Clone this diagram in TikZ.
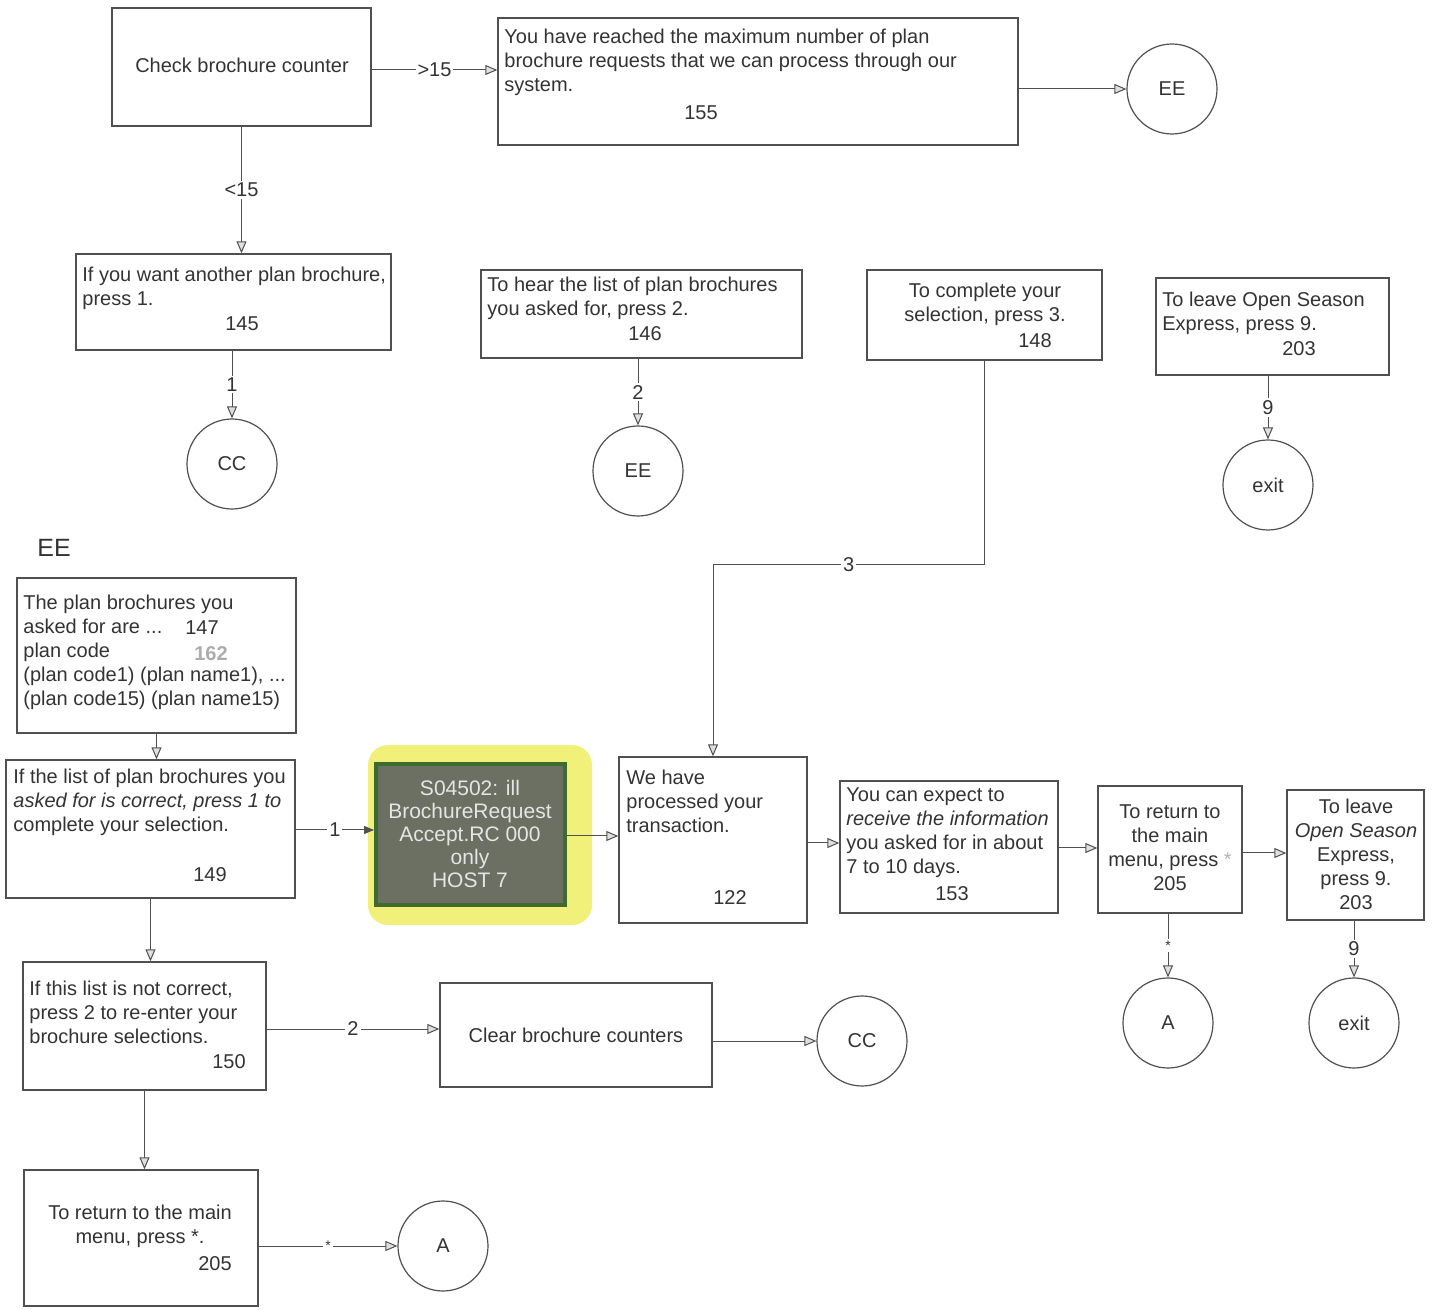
\documentclass[tikz,border=0pt]{standalone}
\usepackage{fontspec}
\setmainfont{Liberation Sans}
\usetikzlibrary{arrows.meta,fit,calc}
\definecolor{ink}{HTML}{333333}
\definecolor{lin}{HTML}{505050}
\definecolor{hlyel}{HTML}{F0F07A}
\definecolor{hlbox}{HTML}{6B7062}
\definecolor{hledge}{HTML}{3F6B2E}
\begin{document}
\begin{tikzpicture}[x=0.5pt,y=-0.5pt, font=\fontsize{10}{12}\selectfont,
 box/.style={draw=lin, line width=0.7pt, inner sep=0pt},
 circ/.style={draw=lin, line width=0.6pt, circle, minimum size=45pt, inner sep=0pt, text=ink},
 txt/.style={text=ink, inner sep=0pt, anchor=west, align=left},
 ctxt/.style={text=ink, inner sep=0pt, align=center},
 arr/.style={draw=lin, line width=0.5pt, -{Triangle[open, length=6pt, width=5pt, fill=gray!25]}},
 arrs/.style={draw=lin, line width=0.5pt, -{Triangle[length=5pt, width=4pt]}},
 lbl/.style={fill=white, inner sep=1pt, text=ink},
 slbl/.style={fill=white, inner sep=1pt, text=ink, font=\fontsize{7}{8}\selectfont}]
\useasboundingbox (0,0) rectangle (1432,1310);

% top row
\node[box, fit={(112,8) (371,126)}] (check) {};
\node[ctxt] (checkT) at (242,65) {Check brochure counter};
\node[box, fit={(498,18) (1018,145)}] (reached) {};
\node[txt] (reachedT) at (504,62) {You have reached the maximum number of plan\\brochure requests that we can process through our\\system.};
\node[ctxt] (reachedN) at (701,113) {155};
\node[circ] (ee1) at (1172,89) {EE};
\draw[arr] (check.east |- 0,70) -- (reached.west |- 0,70) node[lbl, midway] {>15};
\draw[arr] (reached.east |- ee1) -- (ee1.west);

% second row
\node[box, fit={(76,254) (391,350)}] (want) {};
\node[txt] (wantT) at (82,288) {If you want another plan brochure,\\press 1.};
\node[ctxt] (wantN) at (242,324) {145};
\draw[arr] (check.south) -- (check.south |- want.north) node[lbl, midway] {<15};
\node[circ] (cc1) at (232,464) {CC};
\draw[arr] (want.south -| cc1) -- (cc1.north) node[lbl, midway] {1};

\node[box, fit={(481,270) (802,358)}] (hear) {};
\node[txt] (hearT) at (487,298) {To hear the list of plan brochures\\you asked for, press 2.};
\node[ctxt] (hearN) at (645,334) {146};
\node[circ] (ee2) at (638,471) {EE};
\draw[arr] (hear.south -| ee2) -- (ee2.north) node[lbl, midway] {2};

\node[box, fit={(867,270) (1102,360)}] (complete) {};
\node[ctxt] (completeT) at (985,304) {To complete your\\selection, press 3.};
\node[ctxt] (completeN) at (1035,341) {148};

\node[box, fit={(1156,278) (1389,375)}] (leave1) {};
\node[txt] (leave1T) at (1162,313) {To leave Open Season\\Express, press 9.};
\node[ctxt] (leave1N) at (1299,349) {203};
\node[circ] (exit1) at (1268,485) {exit};
\draw[arr] (leave1.south -| exit1) -- (exit1.north) node[lbl, midway] {9};

% EE section
\node[ctxt, font=\fontsize{12.5}{14}\selectfont] (eelbl) at (54,548) {EE};
\node[box, fit={(17,578) (296,733)}] (list) {};
\node[txt] (listT) at (23,652) {The plan brochures you\\asked for are ...\\plan code\\(plan code1) (plan name1), ...\\(plan code15) (plan name15)};
\node[ctxt] (listN) at (202,628) {147};
\node[ctxt, text=gray!65] (listN2) at (211,654) {\textbf{162}};

\node[box, fit={(6,760) (295,898)}] (ok) {};
\node[txt] (okT) at (13,802) {If the list of plan brochures you\\\textit{asked for is correct, press 1 to}\\complete your selection.};
\node[ctxt] (okN) at (210,875) {149};
\draw[arr] (list.south) -- (list.south |- ok.north);

% highlighted host box
\node[fill=hlyel, rounded corners=10pt, inner sep=0pt, fit={(368,745) (592,925)}] (glow) {};
\node[fill=hlbox, draw=hledge, line width=2pt, inner sep=0pt, fit={(376,764) (565,905)}] (host) {};
\node[ctxt, text=gray!20, font=\fontsize{10.5}{11.5}\selectfont] (hostT) at (470,834) {S04502: ill\\BrochureRequest\\Accept.RC 000\\only\\HOST 7};
\draw[arrs] (ok.east |- 0,830) -- (host.west |- 0,830) node[lbl, midway] {1};

\node[box, fit={(619,757) (807,923)}] (wehave) {};
\node[txt] (wehaveT) at (626,801) {We have\\processed your\\transaction.};
\node[ctxt] (wehaveN) at (730,898) {122};
\draw[arr] (host.east |- 0,836) -- (wehave.west |- 0,836);
\draw[arr] (complete.south) |- (wehave.north |- 0,565) node[lbl, pos=0.75] {3} -- (wehave.north);

\node[box, fit={(840,781) (1058,913)}] (expect) {};
\node[txt] (expectT) at (846,833) {You can expect to\\\textit{receive the information}\\you asked for in about\\7 to 10 days.};
\node[ctxt] (expectN) at (952,894) {153};
\draw[arr] (wehave.east |- 0,843) -- (expect.west |- 0,843);

\node[box, fit={(1098,786) (1242,913)}] (ret1) {};
\node[ctxt] (ret1T) at (1170,848) {To return to\\the main\\menu, press \textcolor{gray!60}{*}\\205};
\draw[arr] (expect.east |- 0,848) -- (ret1.west |- 0,848);

\node[box, fit={(1287,790) (1424,920)}] (leave2) {};
\node[ctxt] (leave2T) at (1356,854) {To leave\\\textit{Open Season}\\Express,\\press 9.\\203};
\draw[arr] (ret1.east |- 0,853) -- (leave2.west |- 0,853);

\node[circ] (a1) at (1168,1023) {A};
\node[circ] (exit2) at (1354,1023) {exit};
\draw[arr] (ret1.south -| a1) -- (a1.north) node[slbl, midway] {*};
\draw[arr] (leave2.south -| exit2) -- (exit2.north) node[lbl, midway] {9};

% lower left
\node[box, fit={(23,962) (266,1090)}] (notok) {};
\node[txt] (notokT) at (29,1012) {If this list is not correct,\\press 2 to re-enter your\\brochure selections.};
\node[ctxt] (notokN) at (229,1062) {150};
\draw[arr] (ok.south) -- (ok.south |- notok.north);

\node[box, fit={(440,983) (712,1087)}] (clear) {};
\node[ctxt] (clearT) at (576,1035) {Clear brochure counters};
\draw[arr] (notok.east |- 0,1029) -- (clear.west |- 0,1029) node[lbl, midway] {2};
\node[circ] (cc2) at (862,1041) {CC};
\draw[arr] (clear.east |- cc2) -- (cc2.west);

\node[box, fit={(24,1170) (258,1306)}] (ret2) {};
\node[ctxt] (ret2T) at (140,1226) {To return to the main\\menu, press *.};
\node[ctxt] (ret2N) at (215,1264) {205};
\draw[arr] (notok.south) -- (notok.south |- ret2.north);
\node[circ] (a2) at (443,1246) {A};
\draw[arr] (ret2.east |- a2) -- (a2.west) node[slbl, midway] {*};
\end{tikzpicture}
\end{document}
